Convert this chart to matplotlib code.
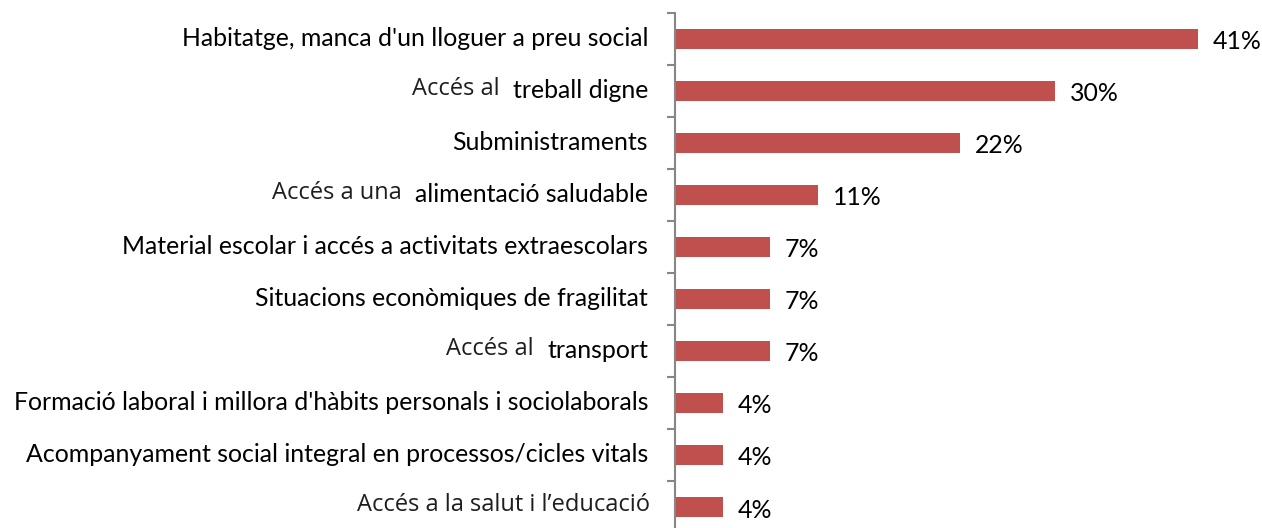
import matplotlib
matplotlib.use("Agg")
import matplotlib.pyplot as plt
from matplotlib.transforms import offset_copy, IdentityTransform

# Data (share of responses, %)
prefixes = ["", "Accés al", "", "Accés a una", "", "", "Accés al", "", "", "Accés a la salut i l\u2019educació"]
labels = [
    "Habitatge, manca d'un lloguer a preu social",
    "treball digne",
    "Subministraments",
    "alimentació saludable",
    "Material escolar i accés a activitats extraescolars",
    "Situacions econòmiques de fragilitat",
    "transport",
    "Formació laboral i millora d'hàbits personals i sociolaborals",
    "Acompanyament social integral en processos/cicles vitals",
    "",
]
values = [40.7, 29.6, 22.2, 11.1, 7.4, 7.4, 7.4, 3.7, 3.7, 3.7]
value_labels = ["41%", "30%", "22%", "11%", "7%", "7%", "7%", "4%", "4%", "4%"]

W, H = 1262, 528
fig = plt.figure(figsize=(W / 100, H / 100), dpi=100)
ax = fig.add_axes([675 / W, -5 / H, 578 / W, 520 / H])

ypos = list(range(len(values)))
ax.barh(ypos, values, height=0.4, color="#C0504D")
ax.set_xlim(0, 45)
ax.set_ylim(len(values) - 0.5, -0.5)

for s in ["top", "right", "bottom"]:
    ax.spines[s].set_visible(False)
ax.spines["left"].set_color("#868686")
ax.spines["left"].set_linewidth(1.5)
ax.set_xticks([])
ax.set_yticks([i - 0.5 for i in range(len(values) + 1)])
ax.set_yticklabels([])
ax.tick_params(axis="y", length=6, width=1.5, color="#868686", direction="out")

main_font = "Lato"
pre_font = "Open Sans"
fs = 17.9

lab_tr = offset_copy(ax.get_yaxis_transform(), fig=fig, x=-27, y=0, units="dots")
val_tr = offset_copy(ax.transData, fig=fig, x=15, y=-3, units="dots")

texts = []
for i, lab in enumerate(labels):
    t = ax.text(0, i, lab, transform=lab_tr, ha="right", va="center",
                fontsize=fs, family=main_font, color="#000000", clip_on=False)
    texts.append(t)
    ax.text(values[i], i, value_labels[i], transform=val_tr, ha="left", va="center",
            fontsize=fs, family=main_font, color="#000000", clip_on=False)

fig.canvas.draw()
renderer = fig.canvas.get_renderer()
for i, pre in enumerate(prefixes):
    if not pre:
        continue
    bb = texts[i].get_window_extent(renderer)
    if labels[i]:
        x = bb.x0 - 13
    else:
        x = ax.transAxes.transform((0, 0))[0] - 25
    yc = ax.transData.transform((0, i))[1] + 2
    ax.text(x, yc, pre, transform=IdentityTransform(), ha="right", va="center",
            fontsize=17, family=pre_font, color="#1e1e1e", clip_on=False)

fig.savefig("out.png", dpi=100)
